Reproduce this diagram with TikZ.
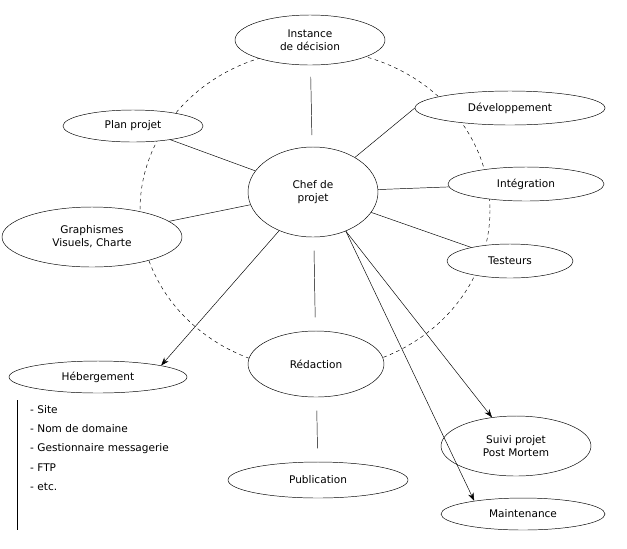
\documentclass[tikz,border=0pt]{standalone}
\usepackage{fontspec}
\setmainfont{DejaVu Sans}
\usetikzlibrary{shapes.geometric,arrows.meta}
\begin{document}
\begin{tikzpicture}[x=0.03cm,y=-0.03cm,font=\fontsize{9}{11}\selectfont,
    bubble/.style={draw,ellipse,inner sep=0pt,align=center},
    link/.style={shorten <=#1,shorten >=#1}]
  \useasboundingbox (0,0) rectangle (627,548);
  \draw[dashed] (315,210) ellipse [x radius=175, y radius=160];
  \node[bubble,minimum width=130*0.03cm,minimum height=90*0.03cm] (chef) at (313,192) {Chef de\\projet};
  \node[bubble,fill=white,minimum width=150*0.03cm,minimum height=50*0.03cm] (instance) at (310,40) {Instance\\de décision};
  \node[bubble,fill=white,minimum width=140*0.03cm,minimum height=32*0.03cm] (plan) at (133,126) {Plan projet};
  \node[bubble,fill=white,minimum width=190*0.03cm,minimum height=34*0.03cm] (dev) at (510,108) {Développement};
  \node[bubble,fill=white,minimum width=156*0.03cm,minimum height=34*0.03cm] (integ) at (526,184) {Intégration};
  \node[bubble,fill=white,minimum width=180*0.03cm,minimum height=60*0.03cm] (graph) at (92,237) {Graphismes\\Visuels, Charte};
  \node[bubble,fill=white,minimum width=126*0.03cm,minimum height=34*0.03cm] (test) at (510,261) {Testeurs};
  \node[bubble,fill=white,minimum width=136*0.03cm,minimum height=66*0.03cm] (redac) at (316,364) {Rédaction};
  \node[bubble,fill=white,minimum width=178*0.03cm,minimum height=32*0.03cm] (heberg) at (98,377) {Hébergement};
  \node[bubble,fill=white,minimum width=150*0.03cm,minimum height=60*0.03cm] (suivi) at (516,446) {Suivi projet\\Post Mortem};
  \node[bubble,fill=white,minimum width=180*0.03cm,minimum height=36*0.03cm] (publi) at (318,480) {Publication};
  \node[bubble,fill=white,minimum width=164*0.03cm,minimum height=32*0.03cm] (maint) at (523,514) {Maintenance};
  \node[anchor=north west,align=left,inner sep=0pt,font=\fontsize{9}{16.5}\selectfont] (liste) at (30,405) {- Site\\- Nom de domaine\\- Gestionnaire messagerie\\- FTP\\- etc.};
  \coordinate (bartop) at (17,400);
  \coordinate (barbot) at (17,530);
  \draw (bartop) -- (barbot);
  \draw[link=0.35cm] (chef) -- (instance);
  \draw (chef) -- (plan);
  \draw (chef) -- (dev.west);
  \draw (chef) -- (integ);
  \draw (chef) -- (graph);
  \draw (chef) -- (test);
  \draw[link=0.4cm] (chef) -- (redac);
  \draw[link=0.4cm] (redac) -- (publi);
  \begin{scope}[-{Stealth[length=7pt,width=5pt]}]
    \draw (chef) -- (heberg.north east);
    \draw (chef.-50) -- (suivi.130);
    \draw (chef.-50) -- (maint.165);
  \end{scope}
\end{tikzpicture}
\end{document}
